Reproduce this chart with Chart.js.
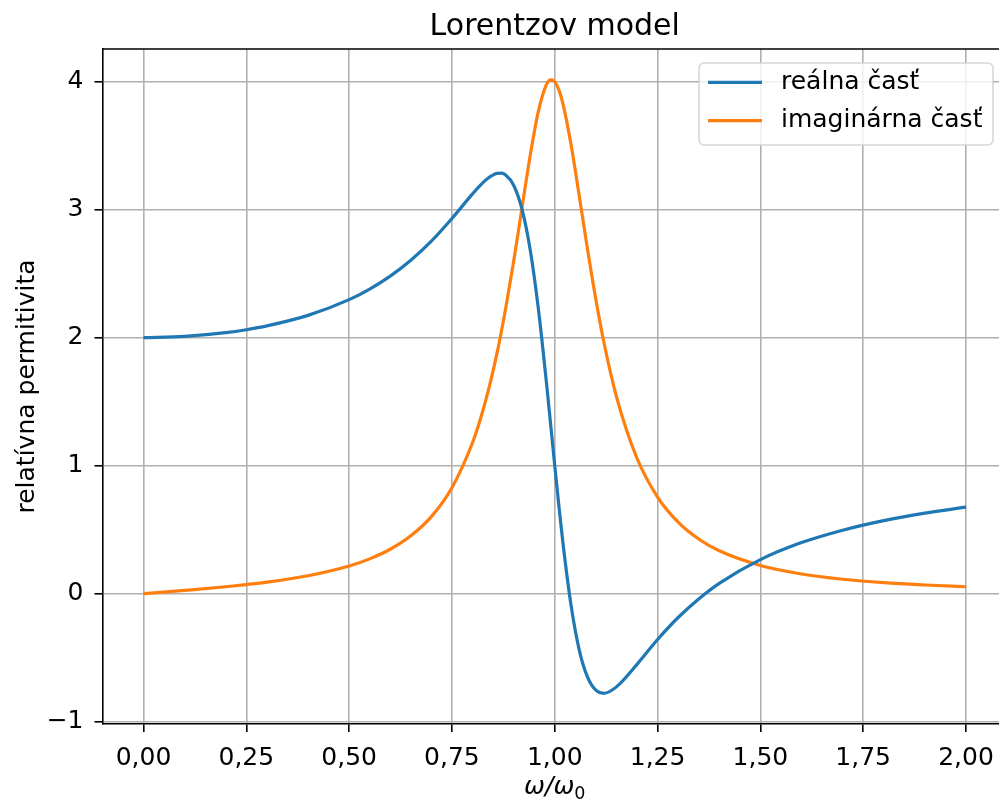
<!DOCTYPE html>
<html>
<head>
<meta charset="utf-8">
<script src="https://cdn.jsdelivr.net/npm/chart.js@4/dist/chart.umd.min.js"></script>
<style>
  html, body { margin: 0; padding: 0; overflow: hidden; background: #fff; }
  canvas { display: block; }
</style>
</head>
<body>
<canvas id="chart" width="1010" height="800"></canvas>
<script>
// values (omega / omega0)
var omega = [0, 0.1, 0.2, 0.25, 0.3, 0.4, 0.5, 0.55, 0.6, 0.65, 0.7, 0.75, 0.8, 0.82, 0.84, 0.86, 0.87, 0.88, 0.9, 0.92, 0.94, 0.96, 0.98, 0.99, 1.0,
  1.01, 1.02, 1.04, 1.06, 1.08, 1.1, 1.12, 1.15, 1.2, 1.25, 1.3, 1.35, 1.4, 1.5, 1.6, 1.7, 1.8, 1.9, 2.0];
var realPart = [2.000, 2.010, 2.039, 2.062, 2.092, 2.174, 2.297, 2.380, 2.481, 2.605, 2.754, 2.931, 3.123, 3.194, 3.251, 3.284, 3.285, 3.272, 3.191, 3.008, 2.693, 2.230, 1.643, 1.323, 1.000,
  0.687, 0.394, -0.099, -0.446, -0.654, -0.754, -0.778, -0.728, -0.552, -0.358, -0.186, -0.041, 0.081, 0.266, 0.399, 0.496, 0.571, 0.629, 0.676];
var imagPart = [0.000, 0.026, 0.054, 0.071, 0.090, 0.140, 0.216, 0.272, 0.347, 0.452, 0.602, 0.828, 1.179, 1.373, 1.606, 1.885, 2.044, 2.216, 2.594, 3.007, 3.417, 3.765, 3.978, 4.014, 4.000,
  3.936, 3.826, 3.501, 3.099, 2.684, 2.297, 1.956, 1.540, 1.058, 0.755, 0.559, 0.427, 0.335, 0.220, 0.154, 0.113, 0.086, 0.068, 0.054];
var xTicks = [0, 0.25, 0.5, 0.75, 1.0, 1.25, 1.5, 1.75, 2.0];
var yTicks = [-1, 0, 1, 2, 3, 4];
var seriesNames = ['reálna časť', 'imaginárna časť'];
var seriesColors = ['#1f77b4', '#ff7f0e'];

var FONT = "'DejaVu Sans', sans-serif";

function toPoints(xs, ys){
  return xs.map(function(x, i){ return {x: x, y: ys[i]}; });
}

// top + right spine
var framePlugin = {
  id: 'frame',
  afterDraw: function(chart){
    var a = chart.chartArea, ctx = chart.ctx;
    ctx.save();
    ctx.strokeStyle = '#000';
    ctx.lineWidth = 1.6;
    ctx.beginPath();
    ctx.moveTo(a.left, a.top);
    ctx.lineTo(a.right, a.top);
    ctx.lineTo(a.right, a.bottom);
    ctx.stroke();
    ctx.restore();
  }
};

// x axis label w/ subscript (omega / omega_0)
var xLabelPlugin = {
  id: 'xLabel',
  afterDraw: function(chart){
    var a = chart.chartArea, ctx = chart.ctx;
    var big = 'italic 25px ' + FONT, small = '17.5px ' + FONT;
    ctx.save();
    ctx.fillStyle = '#000';
    ctx.textBaseline = 'alphabetic';
    ctx.textAlign = 'left';
    ctx.font = big;
    var w1 = ctx.measureText('ω/ω').width;
    ctx.font = small;
    var w2 = ctx.measureText('0').width;
    var x = (a.left + a.right) / 2 - (w1 + w2) / 2;
    ctx.font = big;
    ctx.fillText('ω/ω', x, 794);
    ctx.font = small;
    ctx.fillText('0', x + w1, 799);
    ctx.restore();
  }
};

// matplotlib-like legend box in the upper right corner
var boxLegend = {
  id: 'boxLegend',
  afterDraw: function(chart){
    var ctx = chart.ctx;
    var x0 = 699, y0 = 63, w = 294, h = 82, r = 5;
    ctx.save();
    ctx.fillStyle = 'rgba(255,255,255,0.8)';
    ctx.strokeStyle = 'rgba(204,204,204,0.8)';
    ctx.lineWidth = 1.6;
    ctx.beginPath();
    ctx.roundRect(x0, y0, w, h, r);
    ctx.fill();
    ctx.stroke();
    ctx.font = '25px ' + FONT;
    ctx.textBaseline = 'middle';
    ctx.textAlign = 'left';
    chart.data.datasets.forEach(function(ds, i){
      var yy = 82.3 + i * 38.4;
      ctx.strokeStyle = ds.borderColor;
      ctx.lineWidth = 3.2;
      ctx.beginPath();
      ctx.moveTo(708, yy);
      ctx.lineTo(762, yy);
      ctx.stroke();
      ctx.fillStyle = '#000';
      ctx.fillText(ds.label, 781, yy);
    });
    ctx.restore();
  }
};

var ctx = document.getElementById('chart').getContext('2d');
var chart = new Chart(ctx, {
  type: 'line',
  data: {
    datasets: [{
      label: seriesNames[0],
      data: toPoints(omega, realPart),
      borderColor: seriesColors[0],
      borderWidth: 3.2,
      pointRadius: 0,
      fill: false,
      cubicInterpolationMode: 'monotone'
    }, {
      label: seriesNames[1],
      data: toPoints(omega, imagPart),
      borderColor: seriesColors[1],
      borderWidth: 3.2,
      pointRadius: 0,
      fill: false,
      cubicInterpolationMode: 'monotone'
    }]
  },
  options: {
    responsive: false,
    animation: false,
    layout: { padding: { left: 0, right: 3, top: 0, bottom: 0 } },
    plugins: {
      legend: { display: false },
      tooltip: { enabled: false },
      title: {
        display: true,
        text: 'Lorentzov model',
        fullSize: false,
        color: '#000',
        font: { family: FONT, size: 30, weight: 'normal' },
        padding: { top: 9, bottom: 4 }
      }
    },
    scales: {
      x: {
        type: 'linear',
        min: -0.0997,
        max: 2.0997,
        afterBuildTicks: function(scale){
          scale.ticks = xTicks.map(function(v){ return {value: v}; });
        },
        afterFit: function(scale){ scale.height = 76; },
        grid: { color: '#b0b0b0', lineWidth: 1.6, tickLength: 8, tickColor: '#000', tickWidth: 1.6 },
        border: { color: '#000', width: 1.6 },
        ticks: {
          color: '#000',
          padding: 11,
          maxRotation: 0,
          font: { family: FONT, size: 25 },
          callback: function(v){ return v.toFixed(2).replace('.', ','); }
        }
      },
      y: {
        type: 'linear',
        min: -1.018,
        max: 4.255,
        afterBuildTicks: function(scale){
          scale.ticks = yTicks.map(function(v){ return {value: v}; });
        },
        afterFit: function(scale){ scale.width = 102.5; },
        grid: { color: '#b0b0b0', lineWidth: 1.6, tickLength: 8, tickColor: '#000', tickWidth: 1.6 },
        border: { color: '#000', width: 1.6 },
        ticks: {
          color: '#000',
          padding: 11,
          font: { family: FONT, size: 25 },
          callback: function(v){ return v < 0 ? '\u2212' + Math.abs(v) : String(v); }
        },
        title: {
          display: true,
          text: 'relatívna permitivita',
          color: '#000',
          font: { family: FONT, size: 25 },
          padding: { top: 12, bottom: 0 }
        }
      }
    }
  },
  plugins: [framePlugin, xLabelPlugin, boxLegend]
});
</script>
</body>
</html>
